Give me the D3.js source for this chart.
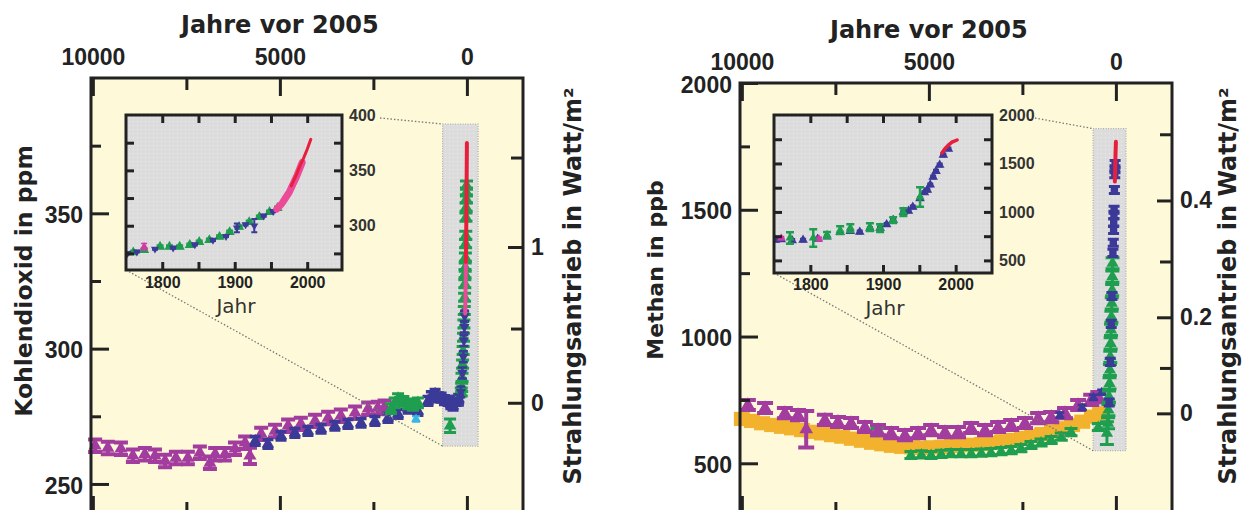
<!DOCTYPE html>
<html>
<head>
<meta charset="utf-8">
<title>Kohlendioxid und Methan</title>
<script src="https://cdn.jsdelivr.net/npm/d3@7"></script>
<style>
  body { margin: 0; background: #fff; }
  #canvas { width: 1253px; height: 510px; }
</style>
</head>
<body>
<div id="canvas" class="canvas"></div>
<script>
//---- ---- DATA: main panels [years before 2005, value, error] ---- ----
var co2Purple = [[9940,264.1],[9600,263.3],[9250,263.0],[8930,260.4],[8610,261.0],[8340,260.4],[8070,258.5],
  [7780,259.6],[7460,259.6],[7140,261.5],[6870,257.8],[6730,261.0],[6470,261.0],[6200,263.0],[5930,265.2],
  [5800,260.4,3],[5500,268.5],[5130,269.6],[4780,271.5],[4440,272.2],[4060,273.3],[3710,274.4],[3370,275.2],
  [2990,276.3],[2640,277.8],[2380,278.1],[2200,278.5]];
var co2Blue = [[5660,265.9],[5320,264.8],[4970,267.8],[4600,268.9],[4250,269.6],[3900,270.4],[3530,271.5],
  [3180,272.2],[2830,272.6],[2460,273.3],[2110,274.4],[1840,275.9],[1570,277.8],[1310,277.0],[1040,280.7],
  [950,282.5],[850,283.3],[760,282.0],[690,281.9],[600,281.0],[500,280.7],[430,279.5],[370,278.9],[290,280.7],[220,281.5]];
var co2Green = [[2030,277.8],[1930,280.0],[1840,281.5],[1700,280.5],[1570,279.6],[1440,279.0],[1310,280.0],[450,271.5,2.5]];
var co2Cyan = [[1360,274.0]];
var co2SpikeGreen = [[150,284.0],[140,285.7],[130,289.4],[115,294.3],[100,299.3],[90,304.2],[80,309.1],[70,314.1],
  [62,319.0],[55,324.0],[50,327.7],[45,330.1],[40,333.8],[35,338.8],[30,341.9],[25,348.6],[20,352.3],[15,355.4],[12,357.9],[10,360.4]];
var co2SpikeBlue = [[200,281],[160,284],[120,291],[95,297],[80,303],[68,308],[60,312]];
var co2Pink = [[47,313],[40,318],[33,325],[27,332]];
var co2Red = [[27,332],[20,340],[15,348],[10,356],[5,366],[0,376]];

var ch4Purple = [[9840,730],[9380,718],[8850,698],[8500,690],[8280,634,72],[7780,671],[7430,663],[7080,659],
  [6710,643],[6360,631],[6010,619],[5640,611],[5290,619],[4940,631],[4570,623],[4220,623],[3870,639],[3500,631],
  [3150,643],[2800,651],[2430,659],[2080,678],[1730,682],[1360,698],[1010,730],[660,750],[470,761]];
var ch4Orange = [[10000,675],[9730,667],[9460,658],[9190,651],[8930,644],[8660,638],[8390,631],[8130,624],
  [7860,618],[7590,611],[7320,605],[7060,597],[6790,589],[6520,581],[6250,575],[5990,569],[5720,565],[5450,563],
  [5180,561],[4920,563],[4650,565],[4380,568],[4110,571],[3850,573],[3580,576],[3310,581],[3040,587],[2780,592],
  [2510,600],[2240,607],[1970,615],[1710,626],[1440,638],[1170,651],[900,664],[640,684],[420,697]];
var ch4Green = [[6390,623],[5480,533],[5200,535],[4940,533],[4670,537],[4410,540],[4140,540],[3870,540],[3600,542],
  [3340,544],[3070,548],[2800,552],[2540,560],[2270,572],[2000,582],[1730,592],[1460,605],[1200,623],[470,643]];
var ch4Blue = [[1500,690],[900,720],[600,760],[380,780]];
var ch4SpikeGreen = [[240,619,45],[210,658],[200,710],[185,763],[170,815],[160,868],[150,920],[140,973],
  [130,1026],[120,1078],[110,1131],[100,1183],[95,1236],[90,1289]];
var ch4SpikeBlue = [[180,740],[150,900],[125,1050],[105,1160],[80,1330],[70,1370],[62,1420],[58,1450],
  [52,1480],[48,1500],[40,1578],[30,1640],[25,1660],[20,1680]];
var ch4Red = [[28,1611],[20,1660],[10,1720],[0,1768]];

//---- ---- DATA: insets [year AD, value, error] ---- ----
var inCo2Green = [[1760,276],[1775,278],[1797,281],[1810,281],[1824,281],[1838,282.6],[1851,285.3],[1865,287],
  [1879,290],[1893,294.3],[1906,299],[1920,303.3],[1934,307.9],[1948,312.4],[1959,316]];
var inCo2Blue = [[1752,275],[1765,276.5],[1790,279],[1815,280],[1845,283],[1870,287],[1888,290.5],[1903,298,4],
  [1915,301],[1927,300,6],[1940,309],[1953,313]];
var inCo2Magenta = [[1775,281,3]];
var inCo2Pink = [[1958,315],[1965,320],[1970,325],[1975,330],[1980,337],[1985,344],[1990,352],[1993,357]];
var inCo2Red = [[1978,336],[1985,346],[1990,354],[1995,361],[2000,369],[2005,378]];

var inCh4Blue = [[1752,710],[1760,715],[1775,705],[1790,710],[1810,720],[1823,745],[1841,790],[1855,800],
  [1868,793],[1882,830],[1896,834],[1905,870],[1914,916],[1928,999],[1935,1010],[1941,1051],[1951,1140],
  [1957,1200],[1961,1226],[1965,1280],[1969,1360],[1973,1420],[1978,1484],[1983,1587],[1990,1650]];
var inCh4Green = [[1772,731,60],[1804,731,90],[1823,762,30],[1841,813,40],[1855,834,40],[1882,844,40],
  [1896,834,40],[1914,916,30],[1928,999,40],[1951,1154,100]];
var inCh4Magenta = [[1760,730],[1812,720]];
var inCh4Red = [[1981,1608],[1985,1650],[1990,1690],[1995,1720],[2002,1742]];

//---- ---- TICKS ---- ----
var yearMajor = [10000, 5000, 0], yearMinor = [7500, 2500];
var co2Major = [250, 300, 350], co2Minor = [275, 325, 375];
var co2ForceMajor = [0, 1], co2ForceMinor = [0.5, 1.5];
var ch4Major = [500, 1000, 1500, 2000], ch4Minor = [750, 1250, 1750];
var ch4ForceMajor = [0, 0.2, 0.4], ch4ForceMinor = [0.1, 0.3, 0.5];
var inYearTicks = [1800, 1850, 1900, 1950, 2000], inYearLabels = [1800, 1900, 2000];
var inCo2Ticks = [275, 300, 325, 350, 375], inCo2Labels = [300, 350, 400];
var inCh4Ticks = [500, 750, 1000, 1250, 1500, 1750], inCh4Labels = [500, 1000, 1500, 2000];

//---- ---- STYLE ---- ----
var col = {purple:'#a23c9e', blue:'#3b3a98', green:'#1f9e50', orange:'#f2b22e', cyan:'#38b6e8',
           red:'#e6203c', pink:'#ec4a98', magenta:'#d23aa8', ink:'#222'};
var numFont = '"Liberation Sans", Arial, sans-serif',
    titleFont = '"DejaVu Sans", Verdana, sans-serif';

var svg = d3.select('#canvas').append('svg').attr('width', 1253).attr('height', 510);

var defs = svg.append('defs');
var pat = defs.append('pattern').attr('id', 'dots').attr('width', 4).attr('height', 4)
  .attr('patternUnits', 'userSpaceOnUse');
pat.append('rect').attr('width', 4).attr('height', 4).attr('fill', '#dcdcdc');
pat.append('rect').attr('x', 1).attr('y', 1).attr('width', 1).attr('height', 1).attr('fill', '#ececec');

//---- ---- HELPERS ---- ----
function marks(g, data, x, y, s) {
  function err(d) { return d[2] != null ? d[2] : s.err; }
  var pt = g.append('g').selectAll('g').data(data).enter().append('g')
    .attr('transform', function(d){ return 'translate(' + x(d[0]) + ',0)'; });
  if (s.rect) {
    pt.append('rect').attr('x', -s.cap / 2).attr('width', s.cap)
      .attr('y', function(d){ return y(d[1] + err(d)); })
      .attr('height', function(d){ return y(d[1] - err(d)) - y(d[1] + err(d)); })
      .attr('fill', s.color);
    return;
  }
  pt.append('path').attr('fill', 'none').attr('stroke', s.color).attr('stroke-width', s.sw || 2.5)
    .attr('d', function(d){
      var e = err(d), a = y(d[1] + e), b = y(d[1] - e), c = s.cap / 2;
      return 'M' + (-c) + ',' + a + 'H' + c + 'M0,' + a + 'V' + b + 'M' + (-c) + ',' + b + 'H' + c;
    });
  pt.append('path').attr('fill', s.color)
    .attr('transform', function(d){ return 'translate(0,' + y(d[1]) + ')' + (s.flip ? ' rotate(180)' : ''); })
    .attr('d', d3.symbol().type(s.sym || d3.symbolTriangle).size(s.size));
}

function curve(g, data, x, y, color, w) {
  g.append('path').datum(data)
    .attr('fill', 'none').attr('stroke', color).attr('stroke-width', w)
    .attr('stroke-linecap', 'round')
    .attr('d', d3.line().x(function(d){ return x(d[0]); }).y(function(d){ return y(d[1]); }));
}

function styleAxis(a, size, bold) {
  a.select('.domain').remove();
  a.style('color', col.ink);
  a.selectAll('line').attr('stroke-width', 3);
  a.selectAll('text').style('font-family', numFont).style('font-size', size + 'px')
    .style('font-weight', bold ? 'bold' : 'normal').attr('fill', '#222');
  return a;
}

function draw(g, s, x, y) {
  if (s.line) curve(g, s.data, x, y, s.color, s.line);
  else marks(g, s.data, x, y, s);
}

//---- ---- INSET ---- ----
function drawInset(g, q, box) {
  var x = d3.scaleLinear().domain(q.xd).range([q.l, q.r]);
  var y = d3.scaleLinear().domain(q.yd).range([q.t, q.b]);

  // connectors to the zoom box
  g.append('path').attr('fill', 'none').attr('stroke', '#777').attr('stroke-width', 1.3)
    .attr('stroke-dasharray', '1.5,2')
    .attr('d', 'M' + (q.r + q.gap) + ',' + (q.t + 3) + 'L' + box.x0 + ',' + box.y0 +
               'M' + q.l + ',' + q.b + 'L' + box.x0 + ',' + box.y1);

  g.append('rect').attr('x', q.l).attr('y', q.t).attr('width', q.r - q.l).attr('height', q.b - q.t)
    .attr('fill', 'url(#dots)');

  var clip = 'clip' + q.l;
  defs.append('clipPath').attr('id', clip).append('rect')
    .attr('x', q.l).attr('y', q.t).attr('width', q.r - q.l).attr('height', q.b - q.t);
  var pg = g.append('g').attr('clip-path', 'url(#' + clip + ')');
  q.series.forEach(function(s){ draw(pg, s, x, y); });

  [d3.axisTop(x).tickValues(inYearTicks).tickFormat('').tickSize(-8),
   d3.axisBottom(x).tickValues(inYearTicks).tickFormat('').tickSize(-8)].forEach(function(ax, i){
    styleAxis(g.append('g').attr('transform', 'translate(0,' + (i ? q.b : q.t) + ')').call(ax), 16, true);
  });
  [d3.axisLeft(y).tickValues(q.yTicks).tickFormat('').tickSize(-8),
   d3.axisRight(y).tickValues(q.yTicks).tickFormat('').tickSize(-8)].forEach(function(ax, i){
    styleAxis(g.append('g').attr('transform', 'translate(' + (i ? q.r : q.l) + ',0)').call(ax), 16, true);
  });
  styleAxis(g.append('g').attr('transform', 'translate(0,' + q.b + ')')
    .call(d3.axisBottom(x).tickValues(inYearLabels).tickFormat(d3.format('d')).tickSize(0).tickPadding(q.xpad)), 16, true);
  styleAxis(g.append('g').attr('transform', 'translate(' + q.r + ',0)')
    .call(d3.axisRight(y).tickValues(q.yLabels).tickFormat(d3.format('d')).tickSize(0).tickPadding(7)), 16, true)
    .selectAll('text').attr('fill', '#333');

  g.append('rect').attr('x', q.l).attr('y', q.t).attr('width', q.r - q.l).attr('height', q.b - q.t)
    .attr('fill', 'none').attr('stroke', col.ink).attr('stroke-width', 3);

  g.append('text').text('Jahr').attr('x', (q.l + q.r) / 2 + 2).attr('y', q.jy)
    .attr('text-anchor', 'middle').attr('fill', '#333')
    .style('font-family', titleFont).style('font-size', '20px');
}

//---- ---- PANEL ---- ----
function drawPanel(p) {
  var x = d3.scaleLinear().domain([10050, -1500]).range([p.l, p.r]);
  var y = d3.scaleLinear().domain(p.yd).range([p.t, p.b]);
  var g = svg.append('g');

  g.append('rect').attr('x', p.l).attr('y', p.t).attr('width', p.r - p.l).attr('height', p.b - p.t)
    .attr('fill', '#fefad9');

  // grey zoom box near year 0
  var box = {x0: x(p.box[0]), x1: x(p.box[1]), y0: y(p.box[2]), y1: y(p.box[3])};
  g.append('rect').attr('x', box.x0).attr('y', box.y0)
    .attr('width', box.x1 - box.x0).attr('height', box.y1 - box.y0)
    .attr('fill', 'url(#dots)').attr('stroke', '#aaa').attr('stroke-width', 1.2).attr('stroke-dasharray', '1,1.5');

  p.series.forEach(function(s){ draw(g, s, x, y); });

  // axes: top and bottom (years), left (concentration), right (forcing)
  styleAxis(g.append('g').attr('transform', 'translate(0,' + p.t + ')')
    .call(d3.axisTop(x).tickValues(yearMajor).tickFormat(d3.format('d')).tickSize(-18).tickPadding(13)), 23, true);
  styleAxis(g.append('g').attr('transform', 'translate(0,' + p.t + ')')
    .call(d3.axisTop(x).tickValues(yearMinor).tickFormat('').tickSize(-12)), 23, true);
  styleAxis(g.append('g').attr('transform', 'translate(0,' + p.b + ')')
    .call(d3.axisBottom(x).tickValues(yearMajor).tickFormat('').tickSize(-18)), 23, true);
  styleAxis(g.append('g').attr('transform', 'translate(0,' + p.b + ')')
    .call(d3.axisBottom(x).tickValues(yearMinor).tickFormat('').tickSize(-12)), 23, true);

  styleAxis(g.append('g').attr('transform', 'translate(' + p.l + ',0)')
    .call(d3.axisLeft(y).tickValues(p.major).tickFormat(d3.format('d')).tickSize(-18).tickPadding(8)), 23, true)
    .selectAll('text').attr('dy', '0.4em');
  styleAxis(g.append('g').attr('transform', 'translate(' + p.l + ',0)')
    .call(d3.axisLeft(y).tickValues(p.minor).tickFormat('').tickSize(-10)), 23, true);

  styleAxis(g.append('g').attr('transform', 'translate(' + p.r + ',0)')
    .call(d3.axisRight(y).tickValues(p.fMajor.map(p.conc))
      .tickFormat(function(d, i){ return String(p.fMajor[i]); }).tickSize(-15).tickPadding(8)), 23, true);
  styleAxis(g.append('g').attr('transform', 'translate(' + p.r + ',0)')
    .call(d3.axisRight(y).tickValues(p.fMinor.map(p.conc)).tickFormat('').tickSize(-12)), 23, true);

  g.append('rect').attr('x', p.l).attr('y', p.t).attr('width', p.r - p.l).attr('height', p.b - p.t)
    .attr('fill', 'none').attr('stroke', col.ink).attr('stroke-width', 3);

  // titles
  g.append('text').text('Jahre vor 2005').attr('x', (x(10000) + x(0)) / 2).attr('y', p.t - 45)
    .attr('text-anchor', 'middle').attr('fill', col.ink)
    .style('font-family', titleFont).style('font-size', '24px').style('font-weight', 'bold');
  g.append('text').text(p.yTitle)
    .attr('transform', 'translate(' + p.yTitleX + ',' + p.yTitleY + ') rotate(-90)')
    .attr('text-anchor', 'middle').attr('fill', col.ink)
    .style('font-family', titleFont).style('font-size', p.yTitleSize + 'px').style('font-weight', 'bold');
  g.append('text').text('Strahlungsantrieb in Watt/m²')
    .attr('transform', 'translate(' + (p.r + p.fTitleOff) + ',286) rotate(-90)')
    .attr('text-anchor', 'middle').attr('fill', col.ink)
    .style('font-family', titleFont).style('font-size', '24px').style('font-weight', 'bold');

  drawInset(g, p.inset, box);
}

//---- ---- CO2 PANEL ---- ----
drawPanel({
  l: 91, r: 523, t: 78, b: 514, yd: [400, 238.9],
  major: co2Major, minor: co2Minor, fMajor: co2ForceMajor, fMinor: co2ForceMinor,
  conc: function(F){ return 280 * Math.exp(F / 5.35); },
  box: [650, -300, 383, 264],
  yTitle: 'Kohlendioxid in ppm', yTitleX: 32, yTitleY: 281, yTitleSize: 23.5, fTitleOff: 58,
  series: [
    {data: co2Purple, color: col.purple, err: 2.3, cap: 14, sw: 4, size: 75},
    {data: co2Blue, color: col.blue, err: 1.6, cap: 11, sw: 3.5, size: 65},
    {data: co2Cyan, color: col.cyan, err: 1, cap: 8, sw: 2, size: 40},
    {data: co2Green, color: col.green, err: 1.8, cap: 12, sw: 3, size: 70},
    {data: co2SpikeGreen, color: col.green, err: 1.5, cap: 13, sw: 3, size: 60},
    {data: co2SpikeBlue, color: col.blue, err: 2, cap: 9, sw: 2.5, size: 45, flip: true},
    {data: co2Pink, color: col.pink, line: 4},
    {data: co2Red, color: col.red, line: 4}
  ],
  inset: {
    l: 126, r: 342, t: 115, b: 270, xd: [1750, 2048], yd: [400, 260],
    yTicks: inCo2Ticks, yLabels: inCo2Labels, gap: 38, xpad: 7, jy: 313,
    series: [
      {data: inCo2Green, color: col.green, err: 1.2, cap: 7, sw: 2.5, size: 45},
      {data: inCo2Blue, color: col.blue, err: 0.8, cap: 6, sw: 2, size: 28, flip: true},
      {data: inCo2Magenta, color: col.magenta, err: 3, cap: 6, sw: 1.5, size: 30},
      {data: inCo2Pink, color: col.pink, line: 7},
      {data: inCo2Red, color: col.red, line: 3}
    ]
  }
});

//---- ---- CH4 PANEL ---- ----
drawPanel({
  l: 740, r: 1172, t: 83, b: 514, yd: [2000, 300],
  major: ch4Major, minor: ch4Minor, fMajor: ch4ForceMajor, fMinor: ch4ForceMinor,
  conc: function(F){ var s = 26.4 + F / 0.03125; return s * s; },
  box: [610, -270, 1820, 550],
  yTitle: 'Methan in ppb', yTitleX: 663, yTitleY: 270, yTitleSize: 22, fTitleOff: 64,
  series: [
    {data: ch4Orange, color: col.orange, err: 28, cap: 16, rect: true},
    {data: ch4Green, color: col.green, err: 14, cap: 13, sw: 3, size: 55},
    {data: ch4Purple, color: col.purple, err: 20, cap: 16, sw: 4, size: 80},
    {data: ch4Blue, color: col.blue, err: 10, cap: 9, sw: 2.5, size: 40},
    {data: ch4SpikeGreen, color: col.green, err: 22, cap: 14, sw: 3, size: 65},
    {data: ch4SpikeBlue, color: col.blue, err: 14, cap: 11, sw: 3, size: 55, sym: d3.symbolSquare},
    {data: ch4Red, color: col.red, line: 4}
  ],
  inset: {
    l: 774, r: 992, t: 115, b: 273, xd: [1750, 2050], yd: [2000, 370],
    yTicks: inCh4Ticks, yLabels: inCh4Labels, gap: 43, xpad: 6, jy: 315,
    series: [
      {data: inCh4Blue, color: col.blue, err: 12, cap: 6, sw: 2.5, size: 40},
      {data: inCh4Magenta, color: col.magenta, err: 15, cap: 6, sw: 2, size: 30},
      {data: inCh4Green, color: col.green, err: 20, cap: 8, sw: 2.5, size: 35},
      {data: inCh4Red, color: col.red, line: 3.5}
    ]
  }
});
</script>
</body>
</html>
